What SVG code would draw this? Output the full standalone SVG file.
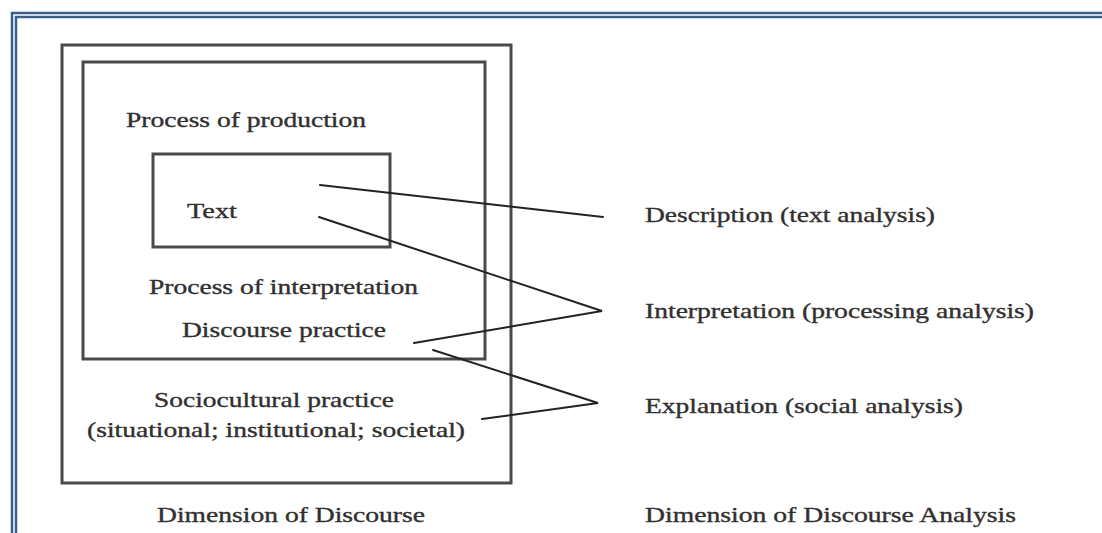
<svg xmlns="http://www.w3.org/2000/svg" width="1102" height="533" viewBox="0 0 1102 533">
<style>
.frame{fill:none;stroke:#3B5E91;stroke-width:2.5}
.box{fill:none;stroke:#4a4a4a;stroke-width:3}
.conn{fill:none;stroke:#222;stroke-width:2;stroke-linecap:round;stroke-linejoin:miter}
.t{font-family:"Liberation Serif","Times New Roman",serif;font-size:21px;fill:#303030;stroke:#303030;stroke-width:0.35}
</style>
<rect x="0" y="0" width="1102" height="533" fill="#ffffff"/>
<g id="page-frame">
<polyline class="frame" points="12,533 12,13 1102,13"/>
<polyline class="frame" points="16,533 16,17 1102,17"/>
</g>
<g id="sociocultural-practice">
<rect class="box" x="62" y="45" width="449" height="438"/>
<text class="t" x="154" y="407" textLength="240" lengthAdjust="spacingAndGlyphs">Sociocultural practice</text>
<text class="t" x="87" y="437" textLength="378" lengthAdjust="spacingAndGlyphs">(situational; institutional; societal)</text>
</g>
<g id="discourse-practice">
<rect class="box" x="83" y="62" width="402" height="297"/>
<text class="t" x="126" y="127" textLength="240" lengthAdjust="spacingAndGlyphs">Process of production</text>
<text class="t" x="149" y="294" textLength="269" lengthAdjust="spacingAndGlyphs">Process of interpretation</text>
<text class="t" x="182" y="337" textLength="204" lengthAdjust="spacingAndGlyphs">Discourse practice</text>
</g>
<g id="text-box">
<rect class="box" x="153" y="154" width="237" height="93"/>
<text class="t" x="187" y="218" textLength="50" lengthAdjust="spacingAndGlyphs">Text</text>
</g>
<g id="connectors">
<line class="conn" x1="320" y1="185" x2="603" y2="217"/>
<polyline class="conn" points="319,217 602,311 414,343"/>
<polyline class="conn" points="433,350 598,403 482,419"/>
</g>
<g id="label-description">
<text class="t" x="645" y="222" textLength="290" lengthAdjust="spacingAndGlyphs">Description (text analysis)</text>
</g>
<g id="label-interpretation">
<text class="t" x="645" y="318" textLength="389" lengthAdjust="spacingAndGlyphs">Interpretation (processing analysis)</text>
</g>
<g id="label-explanation">
<text class="t" x="645" y="413" textLength="318" lengthAdjust="spacingAndGlyphs">Explanation (social analysis)</text>
</g>
<g id="caption-left">
<text class="t" x="157" y="522" textLength="268" lengthAdjust="spacingAndGlyphs">Dimension of Discourse</text>
</g>
<g id="caption-right">
<text class="t" x="645" y="522" textLength="371" lengthAdjust="spacingAndGlyphs">Dimension of Discourse Analysis</text>
</g>
</svg>
